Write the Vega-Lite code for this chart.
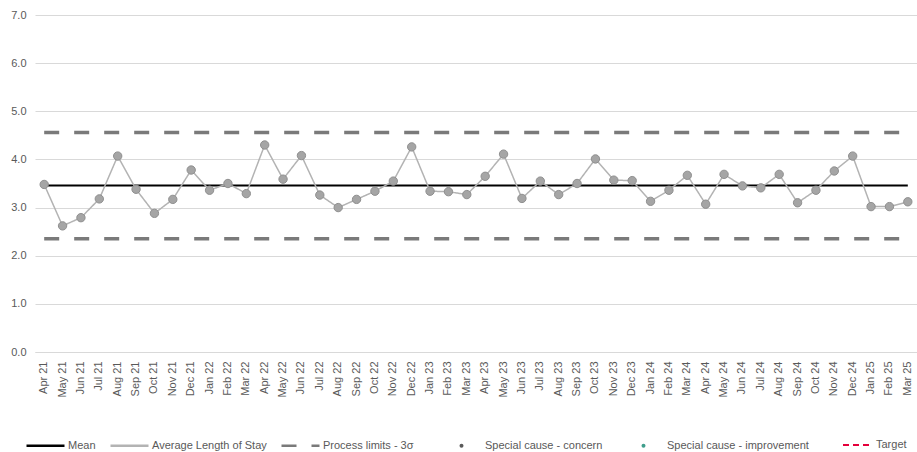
{
  "$schema": "https://vega.github.io/schema/vega-lite/v6.json",
  "autosize": {"type": "none"},
  "width": 882,
  "height": 337,
  "padding": {"left": 35, "top": 15, "right": 0, "bottom": 100},
  "background": "white",
  "config": {
    "view": {"stroke": null},
    "font": "Liberation Sans",
    "axis": {"labelFont": "Liberation Sans", "labelColor": "#595959", "labelFontSize": 11},
    "legend": {"labelFont": "Liberation Sans", "labelFontSize": 11, "labelColor": "#595959", "title": null, "padding": 0, "labelLimit": 0, "orient": "none", "direction": "horizontal"}
  },
  "data": {
    "values": [
      {"month": "Apr 21", "alos": 3.48, "mean": 3.46, "ucl": 4.56, "lcl": 2.35},
      {"month": "May 21", "alos": 2.62, "mean": 3.46, "ucl": 4.56, "lcl": 2.35},
      {"month": "Jun 21", "alos": 2.79, "mean": 3.46, "ucl": 4.56, "lcl": 2.35},
      {"month": "Jul 21", "alos": 3.18, "mean": 3.46, "ucl": 4.56, "lcl": 2.35},
      {"month": "Aug 21", "alos": 4.07, "mean": 3.46, "ucl": 4.56, "lcl": 2.35},
      {"month": "Sep 21", "alos": 3.38, "mean": 3.46, "ucl": 4.56, "lcl": 2.35},
      {"month": "Oct 21", "alos": 2.88, "mean": 3.46, "ucl": 4.56, "lcl": 2.35},
      {"month": "Nov 21", "alos": 3.17, "mean": 3.46, "ucl": 4.56, "lcl": 2.35},
      {"month": "Dec 21", "alos": 3.78, "mean": 3.46, "ucl": 4.56, "lcl": 2.35},
      {"month": "Jan 22", "alos": 3.36, "mean": 3.46, "ucl": 4.56, "lcl": 2.35},
      {"month": "Feb 22", "alos": 3.50, "mean": 3.46, "ucl": 4.56, "lcl": 2.35},
      {"month": "Mar 22", "alos": 3.29, "mean": 3.46, "ucl": 4.56, "lcl": 2.35},
      {"month": "Apr 22", "alos": 4.30, "mean": 3.46, "ucl": 4.56, "lcl": 2.35},
      {"month": "May 22", "alos": 3.59, "mean": 3.46, "ucl": 4.56, "lcl": 2.35},
      {"month": "Jun 22", "alos": 4.08, "mean": 3.46, "ucl": 4.56, "lcl": 2.35},
      {"month": "Jul 22", "alos": 3.26, "mean": 3.46, "ucl": 4.56, "lcl": 2.35},
      {"month": "Aug 22", "alos": 3.00, "mean": 3.46, "ucl": 4.56, "lcl": 2.35},
      {"month": "Sep 22", "alos": 3.17, "mean": 3.46, "ucl": 4.56, "lcl": 2.35},
      {"month": "Oct 22", "alos": 3.34, "mean": 3.46, "ucl": 4.56, "lcl": 2.35},
      {"month": "Nov 22", "alos": 3.55, "mean": 3.46, "ucl": 4.56, "lcl": 2.35},
      {"month": "Dec 22", "alos": 4.26, "mean": 3.46, "ucl": 4.56, "lcl": 2.35},
      {"month": "Jan 23", "alos": 3.34, "mean": 3.46, "ucl": 4.56, "lcl": 2.35},
      {"month": "Feb 23", "alos": 3.33, "mean": 3.46, "ucl": 4.56, "lcl": 2.35},
      {"month": "Mar 23", "alos": 3.27, "mean": 3.46, "ucl": 4.56, "lcl": 2.35},
      {"month": "Apr 23", "alos": 3.65, "mean": 3.46, "ucl": 4.56, "lcl": 2.35},
      {"month": "May 23", "alos": 4.11, "mean": 3.46, "ucl": 4.56, "lcl": 2.35},
      {"month": "Jun 23", "alos": 3.19, "mean": 3.46, "ucl": 4.56, "lcl": 2.35},
      {"month": "Jul 23", "alos": 3.55, "mean": 3.46, "ucl": 4.56, "lcl": 2.35},
      {"month": "Aug 23", "alos": 3.27, "mean": 3.46, "ucl": 4.56, "lcl": 2.35},
      {"month": "Sep 23", "alos": 3.50, "mean": 3.46, "ucl": 4.56, "lcl": 2.35},
      {"month": "Oct 23", "alos": 4.01, "mean": 3.46, "ucl": 4.56, "lcl": 2.35},
      {"month": "Nov 23", "alos": 3.57, "mean": 3.46, "ucl": 4.56, "lcl": 2.35},
      {"month": "Dec 23", "alos": 3.56, "mean": 3.46, "ucl": 4.56, "lcl": 2.35},
      {"month": "Jan 24", "alos": 3.13, "mean": 3.46, "ucl": 4.56, "lcl": 2.35},
      {"month": "Feb 24", "alos": 3.36, "mean": 3.46, "ucl": 4.56, "lcl": 2.35},
      {"month": "Mar 24", "alos": 3.67, "mean": 3.46, "ucl": 4.56, "lcl": 2.35},
      {"month": "Apr 24", "alos": 3.07, "mean": 3.46, "ucl": 4.56, "lcl": 2.35},
      {"month": "May 24", "alos": 3.69, "mean": 3.46, "ucl": 4.56, "lcl": 2.35},
      {"month": "Jun 24", "alos": 3.45, "mean": 3.46, "ucl": 4.56, "lcl": 2.35},
      {"month": "Jul 24", "alos": 3.41, "mean": 3.46, "ucl": 4.56, "lcl": 2.35},
      {"month": "Aug 24", "alos": 3.69, "mean": 3.46, "ucl": 4.56, "lcl": 2.35},
      {"month": "Sep 24", "alos": 3.10, "mean": 3.46, "ucl": 4.56, "lcl": 2.35},
      {"month": "Oct 24", "alos": 3.36, "mean": 3.46, "ucl": 4.56, "lcl": 2.35},
      {"month": "Nov 24", "alos": 3.76, "mean": 3.46, "ucl": 4.56, "lcl": 2.35},
      {"month": "Dec 24", "alos": 4.07, "mean": 3.46, "ucl": 4.56, "lcl": 2.35},
      {"month": "Jan 25", "alos": 3.02, "mean": 3.46, "ucl": 4.56, "lcl": 2.35},
      {"month": "Feb 25", "alos": 3.02, "mean": 3.46, "ucl": 4.56, "lcl": 2.35},
      {"month": "Mar 25", "alos": 3.12, "mean": 3.46, "ucl": 4.56, "lcl": 2.35}
    ]
  },
  "encoding": {
    "x": {
      "field": "month",
      "type": "ordinal",
      "sort": null,
      "scale": {"type": "band", "paddingInner": 0, "paddingOuter": 0},
      "axis": {
        "title": null,
        "labelAngle": -90,
        "labelPadding": 9,
        "ticks": false,
        "domain": true,
        "domainColor": "#d9d9d9",
        "grid": false
      }
    }
  },
  "layer": [
    {
      "mark": {"type": "line", "strokeWidth": 3.5},
      "encoding": {
        "y": {
          "field": "ucl",
          "type": "quantitative",
          "scale": {"domain": [0, 7], "nice": false},
          "axis": {
            "title": null,
            "values": [0, 1, 2, 3, 4, 5, 6, 7],
            "format": ".1f",
            "domain": false,
            "ticks": false,
            "labelPadding": 9,
            "grid": true,
            "gridColor": "#d9d9d9",
            "gridWidth": 1
          }
        },
        "color": {
          "datum": "Process limits - 3σ",
          "scale": {
            "domain": ["Mean", "Average Length of Stay", "Process limits - 3σ"],
            "range": ["#000000", "#b3b3b3", "#7a7a7a"]
          },
          "legend": {
            "legendX": -10,
            "legendY": 410,
            "columnPadding": 9,
            "labelOffset": 2,
            "symbolType": "stroke",
            "symbolSize": 1444,
            "symbolStrokeWidth": 2.5
          }
        },
        "strokeDash": {
          "datum": "Process limits - 3σ",
          "scale": {
            "domain": ["Mean", "Average Length of Stay", "Process limits - 3σ"],
            "range": [[1, 0], [1, 0], [15, 15]]
          }
        }
      }
    },
    {
      "mark": {"type": "line", "strokeWidth": 3.5},
      "encoding": {
        "y": {"field": "lcl", "type": "quantitative"},
        "color": {"datum": "Process limits - 3σ"},
        "strokeDash": {"datum": "Process limits - 3σ"}
      }
    },
    {
      "mark": {"type": "line", "strokeWidth": 2},
      "encoding": {
        "y": {"field": "mean", "type": "quantitative"},
        "color": {"datum": "Mean"},
        "strokeDash": {"datum": "Mean"}
      }
    },
    {
      "mark": {"type": "line", "strokeWidth": 1.5},
      "encoding": {
        "y": {"field": "alos", "type": "quantitative"},
        "color": {"datum": "Average Length of Stay"},
        "strokeDash": {"datum": "Average Length of Stay"}
      }
    },
    {
      "mark": {"type": "line", "strokeWidth": 2},
      "encoding": {
        "y": {"field": "target", "type": "quantitative"},
        "stroke": {
          "datum": "Target",
          "scale": {"domain": ["Target"], "range": ["#e4003b"]},
          "legend": {
            "legendX": 807,
            "legendY": 414,
            "labelOffset": 2,
            "symbolType": "stroke",
            "symbolSize": 900,
            "symbolStrokeWidth": 2,
            "symbolDash": [6, 4]
          }
        }
      }
    },
    {
      "mark": {"type": "point", "filled": true, "size": 70, "fill": "#a5a5a5", "stroke": "#8f8f8f", "strokeWidth": 1, "opacity": 1},
      "encoding": {
        "y": {"field": "alos", "type": "quantitative"}
      }
    },
    {
      "transform": [{"filter": "datum.alos > datum.ucl || datum.alos < datum.lcl"}],
      "mark": {"type": "point", "filled": true, "size": 70, "opacity": 1},
      "encoding": {
        "y": {"field": "alos", "type": "quantitative"},
        "fill": {
          "datum": "Special cause - concern",
          "scale": {
            "domain": ["Special cause - concern", "Special cause - improvement"],
            "range": ["#5a5a5a", "#3f9e8c"]
          },
          "legend": {
            "legendX": 421,
            "legendY": 425,
            "columnPadding": 35,
            "labelOffset": 18,
            "symbolType": "circle",
            "symbolSize": 16,
            "symbolStrokeWidth": 0
          }
        }
      }
    }
  ]
}
